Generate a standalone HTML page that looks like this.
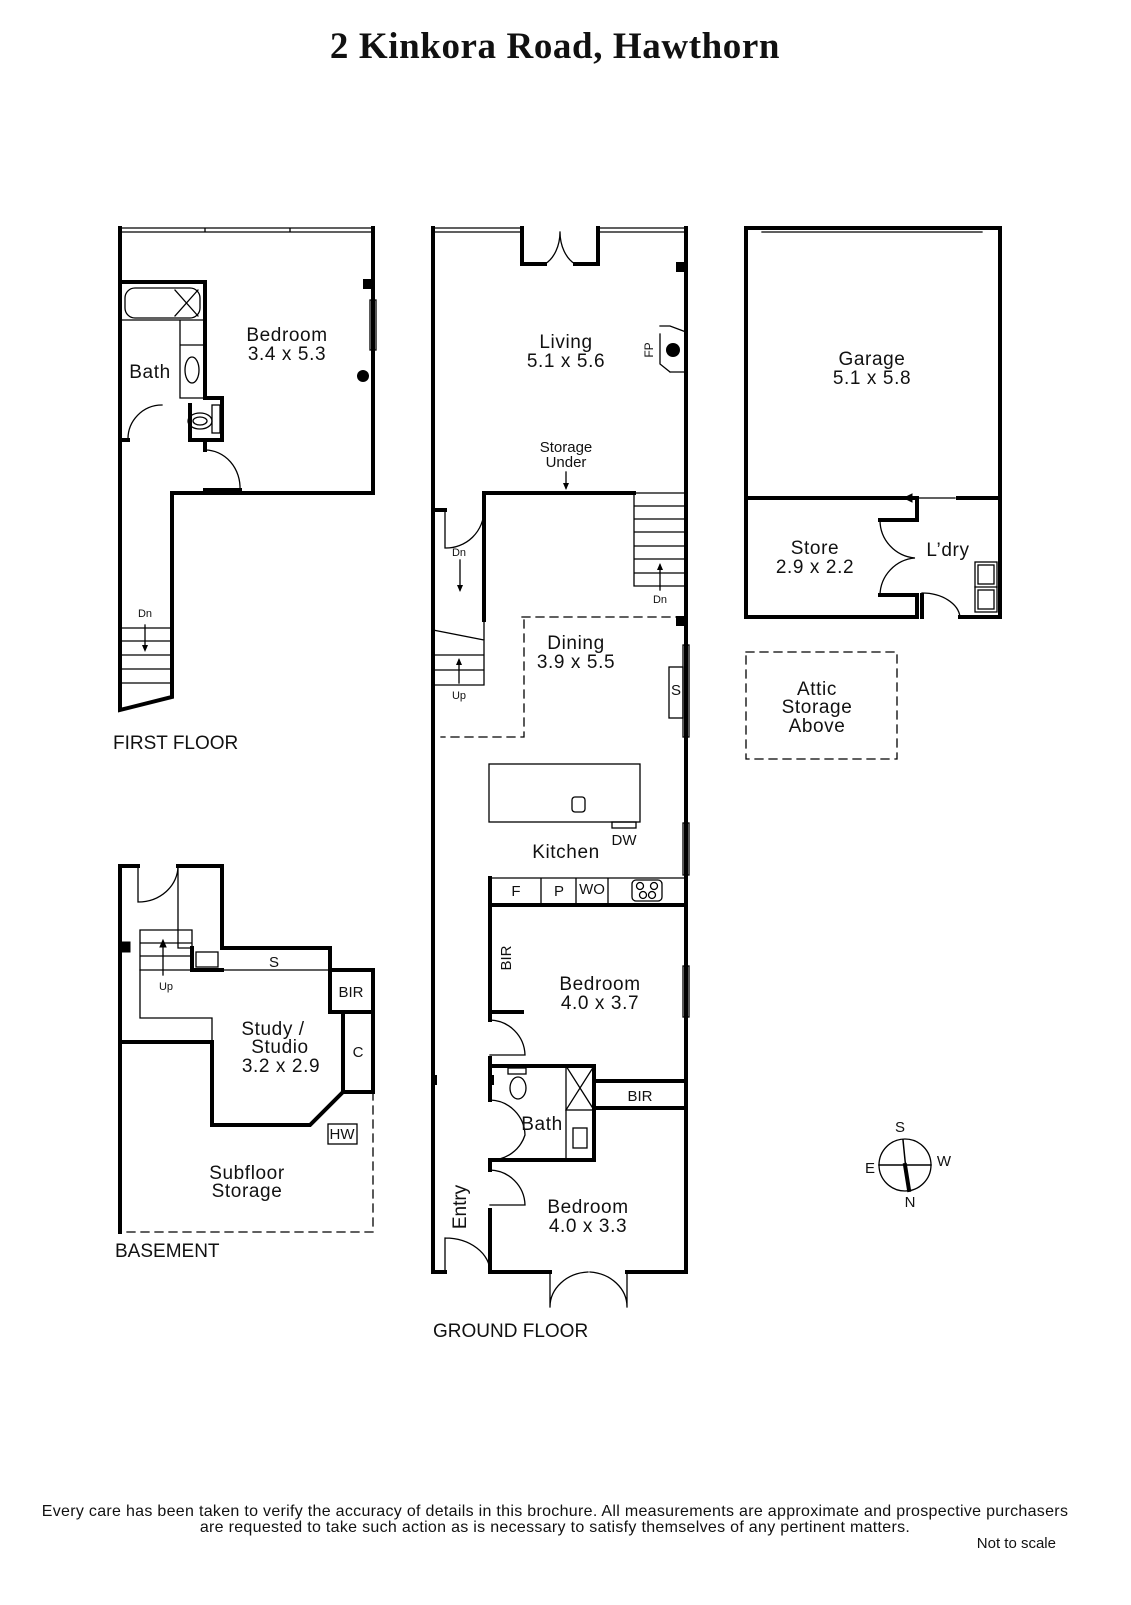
<!DOCTYPE html>
<html><head><meta charset="utf-8"><style>
html,body{margin:0;padding:0;background:#fff}
svg text{font-family:"Liberation Sans",sans-serif;fill:#111}
</style></head><body>
<svg width="1131" height="1600" viewBox="0 0 1131 1600" xmlns="http://www.w3.org/2000/svg">
<text x="555" y="58" text-anchor="middle" style="font-family:'Liberation Serif',serif;font-weight:bold;font-size:37px;letter-spacing:0.6px">2 Kinkora Road, Hawthorn</text>

<g fill="none" stroke="#000" stroke-linecap="square">
<!-- FIRST FLOOR -->
<g stroke-width="4">
<path d="M120 228 V710 L172 697 V493 H373 V228"/>
<path d="M120 282 H205 V398 H222 V440 H190 V405"/>
<path d="M120 440 H128"/>
<path d="M205 440 V450 M205 490 H240"/>
</g>
<g stroke-width="1.3">
<path d="M120 228 H373 M120 232 H373 M205 228 V232 M290 228 V232"/>
<path d="M162 405 A34 34 0 0 0 128 440"/>
<path d="M205 450 A35 38 0 0 1 240 490"/>
<rect x="125" y="288" width="75" height="30" rx="10"/>
<path d="M175 290 L198 316 M198 290 L175 316"/>
<path d="M120 320 H205 M180 320 V398 H205 M180 345 H205"/>
<ellipse cx="192" cy="370" rx="7" ry="13"/>
<ellipse cx="200" cy="421" rx="12" ry="8"/><ellipse cx="200" cy="421" rx="7" ry="4"/>
<rect x="212" y="405" width="8" height="28"/>
<rect x="370" y="300" width="6" height="50"/>
<path d="M120 628 H172 M120 641 H172 M120 655 H172 M120 669 H172 M120 683 H172"/>
<path d="M145 625 V648"/>
</g>

<!-- GROUND FLOOR -->
<g stroke-width="4">
<path d="M433 228 V1272 H445"/>
<path d="M490 1272 H550 M627 1272 H686 V228"/>
<path d="M522 228 V264 H545 M575 264 H598 V228"/>
<path d="M433 510 H445 M484 510 V493 H634"/>
<path d="M484 493 V620"/>
<path d="M490 878 V1020 M490 1058 V1100 M490 1160 V1170 M490 1210 V1272"/>
<path d="M490 905 H686"/>
<path d="M490 1066 H594 V1160 H490"/>
<path d="M594 1081 H686 M594 1108 H686"/>
<path d="M490 905 V1012 H522"/>
</g>
<g stroke-width="1.3">
<path d="M433 228 H522 M433 232 H522 M598 228 H686 M598 232 H686"/>
<path d="M545 264 A25 35 0 0 0 560 232 M575 264 A25 35 0 0 1 560 232"/>
<path d="M550 1272 V1307 M627 1272 V1307 M550 1307 A40 35 0 0 1 588 1272 M627 1307 A40 35 0 0 0 590 1272"/>
<path d="M445 1238 A45 34 0 0 1 490 1272 M445 1238 V1272"/>
<path d="M445 510 V548 A38 38 0 0 0 484 510"/>
<path d="M634 493 H686 M634 586 H686 M634 506 H686 M634 519 H686 M634 532 H686 M634 546 H686 M634 559 H686 M634 573 H686 M634 493 V586"/>
<path d="M660 565 V590"/>
<path d="M433 630 L484 640 M433 630 V685 M433 655 H484 M433 670 H484 M433 685 H484 M484 620 V685"/>
<path d="M459 660 V683"/>
<path d="M460 560 V590"/>
<path d="M566 472 V488"/>
<path d="M660 326 L670 326 L686 332 M670 372 L660 364 V334 M670 372 L686 372"/>
<rect x="489" y="764" width="151" height="58"/>
<rect x="572" y="797" width="13" height="15" rx="3"/>
<rect x="612" y="822" width="24" height="6"/>
<path d="M541 878 V905 M576 878 V905 M608 878 V905 M490 878 H686"/>
<rect x="632" y="880" width="30" height="21" rx="4"/>
<circle cx="640" cy="886" r="3.5"/><circle cx="654" cy="886" r="3.5"/><circle cx="643" cy="895" r="3.5"/><circle cx="652" cy="895" r="3.5"/>
<rect x="683" y="645" width="6" height="92"/><rect x="669" y="667" width="14" height="51"/>
<rect x="683" y="823" width="6" height="52"/><rect x="683" y="966" width="6" height="51"/>
<path d="M490 1020 A36 36 0 0 1 525 1055 H490"/>
<path d="M490 1100 A36 36 0 0 1 525 1135 A36 36 0 0 1 490 1160"/>
<path d="M490 1170 A36 36 0 0 1 525 1205 H490"/>
<rect x="566" y="1066" width="28" height="44"/><path d="M566 1066 L594 1110 M594 1066 L566 1110"/>
<path d="M566 1110 V1160"/><rect x="573" y="1128" width="14" height="20"/>
<ellipse cx="518" cy="1088" rx="8" ry="11"/><rect x="508" y="1068" width="18" height="6"/>
<path d="M522 617 H686 M524 620 V737 H441" stroke-dasharray="8 6"/>
</g>
<g fill="#000" stroke="none">
<rect x="676" y="262" width="10" height="10"/><circle cx="673" cy="350" r="7"/>
<rect x="676" y="616" width="10" height="10"/>
<rect x="363" y="279" width="10" height="10"/><circle cx="363" cy="376" r="6"/>
<path d="M566 490 l-3 -7 h6z M460 592 l-3 -7 h6z M660 563 l-3 7 h6z M459 658 l-3 7 h6z M145 652 l-3 -7 h6z"/>
<rect x="433" y="1075" width="4" height="10"/><rect x="490" y="1075" width="4" height="10"/>
</g>

<!-- GARAGE -->
<g stroke-width="4">
<path d="M746 228 V617 H917 V595 H880 M880 520 H917 V498 H746"/>
<path d="M960 617 H1000 V228 H746 M958 498 H1000"/>
<path d="M922 595 V617"/>
</g>
<g stroke-width="1.3">
<path d="M762 228 H982 M762 232 H982"/>
<path d="M880 520 A38 38 0 0 0 915 558 A38 38 0 0 0 880 595"/>
<path d="M922 593 A38 26 0 0 1 960 617"/>
<path d="M915 498 H955"/>
<rect x="975" y="562" width="22" height="50"/><path d="M975 587 H997"/><rect x="978" y="565" width="16" height="19"/><rect x="978" y="590" width="16" height="19"/>
<rect x="746" y="652" width="151" height="107" stroke-dasharray="8 6"/>
</g>
<path d="M904 498 l8 -4 v8z" fill="#000"/>

<!-- BASEMENT -->
<g stroke-width="4">
<path d="M120 1232 V866 H138 M178 866 H222 V948 H330 V970 H373 V1092 H343 L310 1125 H212 V1042 H120"/>
<path d="M330 970 V1012 H373 M343 1012 V1092"/>
<path d="M192 948 V970 H222"/>
</g>
<g stroke-width="1.3">
<path d="M138 866 V902 A40 36 0 0 0 178 866"/>
<path d="M178 866 V948 H192"/>
<path d="M140 930 H192 V970 H140 Z M140 943 H192 M140 956 H192"/>
<path d="M140 970 V1018 H212 V1042"/>
<path d="M192 970 H330"/>
<rect x="196" y="952" width="22" height="15"/>
<rect x="328" y="1124" width="29" height="20"/>
<path d="M373 1092 V1232 H120" stroke-dasharray="8 6"/>
<path d="M163 945 V975"/>
</g>
<rect x="120" y="942" width="10" height="10" fill="#000"/>
<path d="M163 940 l-3 7 h6z" fill="#000"/>

<!-- compass -->
<circle cx="905" cy="1165" r="26" stroke-width="1.3"/>
<path d="M879 1165 H931 M903 1140 L908 1190" stroke-width="1.5"/>
<path d="M905 1165 L909 1190" stroke-width="4"/>
</g>

<g font-size="19" text-anchor="middle" style="letter-spacing:0.6px">
<text x="287" y="341">Bedroom</text><text x="287" y="360">3.4 x 5.3</text>
<text x="150" y="378">Bath</text>
<text x="566" y="348">Living</text><text x="566" y="367">5.1 x 5.6</text>
<text x="872" y="365">Garage</text><text x="872" y="384">5.1 x 5.8</text>
<text x="815" y="554">Store</text><text x="815" y="573">2.9 x 2.2</text>
<text x="948" y="556">L’dry</text>
<text x="576" y="649">Dining</text><text x="576" y="668">3.9 x 5.5</text>
<text x="817" y="695">Attic</text><text x="817" y="713">Storage</text><text x="817" y="732">Above</text>
<text x="566" y="858">Kitchen</text>
<text x="600" y="990">Bedroom</text><text x="600" y="1009">4.0 x 3.7</text>
<text x="588" y="1213">Bedroom</text><text x="588" y="1232">4.0 x 3.3</text>
<text x="542" y="1130">Bath</text>
<text x="273" y="1035">Study /</text><text x="280" y="1053">Studio</text><text x="281" y="1072">3.2 x 2.9</text>
<text x="247" y="1179">Subfloor</text><text x="247" y="1197">Storage</text>
</g>
<g font-size="15" text-anchor="middle">
<text x="566" y="452">Storage</text><text x="566" y="467">Under</text>
<text x="624" y="845">DW</text>
<text x="516" y="896">F</text><text x="559" y="896">P</text><text x="592" y="894">WO</text>
<text x="640" y="1101">BIR</text><text x="351" y="997">BIR</text>
<text x="358" y="1057">C</text><text x="274" y="967">S</text><text x="342" y="1139">HW</text>
<text x="676" y="695">S</text>
<text x="900" y="1132">S</text><text x="910" y="1207">N</text><text x="870" y="1173">E</text><text x="944" y="1166">W</text>
<text transform="translate(511 958) rotate(-90)">BIR</text>
<text transform="translate(466 1207) rotate(-90)" font-size="19">Entry</text>
<text transform="translate(653 350) rotate(-90)" font-size="12">FP</text>
</g>
<g font-size="11" text-anchor="middle">
<text x="459" y="556">Dn</text><text x="660" y="603">Dn</text><text x="459" y="699">Up</text>
<text x="145" y="617">Dn</text><text x="166" y="990">Up</text>
</g>
<g font-size="19">
<text x="113" y="749">FIRST FLOOR</text>
<text x="115" y="1257">BASEMENT</text>
<text x="433" y="1337">GROUND FLOOR</text>
</g>
<g font-size="16" text-anchor="middle" style="letter-spacing:0.3px">
<text x="555" y="1516">Every care has been taken to verify the accuracy of details in this brochure.  All measurements are approximate and prospective purchasers</text>
<text x="555" y="1532">are requested to take such action as is necessary to satisfy themselves of any pertinent matters.</text>
</g>
<text x="1056" y="1548" font-size="15" text-anchor="end">Not to scale</text>
</svg>
</body></html>
